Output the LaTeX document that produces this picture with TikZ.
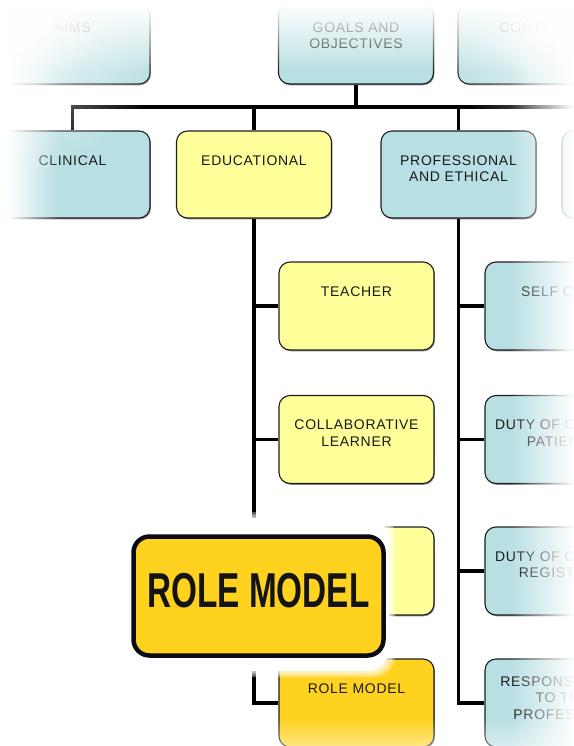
\documentclass[tikz,border=0pt]{standalone}
\usepackage{fontspec}
\setmainfont{Liberation Sans}
\usetikzlibrary{fadings,shadows}

\definecolor{tealfill}{HTML}{B8DFE3}
\definecolor{yelfill}{HTML}{FFFF99}
\definecolor{goldfill}{HTML}{FFD21F}
\definecolor{boxline}{HTML}{1E1E1E}
\definecolor{bigline}{HTML}{0B0B16}

\newcommand{\lblfont}{\fontsize{14}{16.5}\selectfont\addfontfeatures{LetterSpace=5}}
\newcommand{\bigfont}{\fontsize{49}{49}\selectfont\bfseries}

% soft white corner wash
\tikzfading[name=cornerfade, inner color=transparent!0, outer color=transparent!100]

\begin{document}
\begin{tikzpicture}[x=1pt, y=-1pt,
  box/.style={draw=boxline, line width=1.1pt, rounded corners=11pt,
    minimum width=155pt, minimum height=88pt, inner sep=0pt,
    general shadow={fill=black!45, shadow xshift=0.9pt, shadow yshift=-1.3pt}},
  tealbox/.style={box, fill=tealfill},
  yelbox/.style={box, fill=yelfill},
  goldbox/.style={box, fill=goldfill},
  toprow/.style={minimum height=80pt},
  midrow/.style={minimum height=87pt},
  lbl/.style={font=\lblfont, align=center, anchor=north, inner sep=0pt,
    text=black!90, yshift=-25pt},
  wire/.style={line width=3.6pt, black},
]
\useasboundingbox (0,0) rectangle (573,746);

% top row
\node[tealbox, toprow, label={[lbl, yshift=6pt]north:AIMS}] (aims) at (72.5,44) {};
\node[tealbox, toprow, label={[lbl, yshift=6pt]north:GOALS AND\\OBJECTIVES}] (goals) at (356,44) {};
\node[tealbox, toprow, label={[lbl, yshift=6pt]north:CONTENT}] (content) at (535.5,44) {};

% second row
\node[tealbox, midrow, label={[lbl]north:CLINICAL}] (clin) at (72.5,174.5) {};
\node[yelbox, midrow, label={[lbl]north:EDUCATIONAL}] (edu) at (254,174.5) {};
\node[tealbox, midrow, label={[lbl]north:PROFESSIONAL\\AND ETHICAL}] (prof) at (458.5,174.5) {};
\node[tealbox, midrow] (fourth) at (639.5,174.5) {};

% educational roles
\node[yelbox, label={[lbl]north:TEACHER}] (teacher) at (356.5,306) {};
\node[yelbox, label={[lbl]north:COLLABORATIVE\\LEARNER}] (collab) at (356.5,439.5) {};
\node[yelbox] (third) at (356.5,571) {};
\node[goldbox, label={[lbl]north:ROLE MODEL}] (rolem) at (356.5,703) {};

% professional and ethical duties
\node[tealbox, label={[lbl]north:SELF CARE}] (selfcare) at (562.5,306) {};
\node[tealbox, label={[lbl]north:DUTY OF CARE TO\\PATIENTS}] (dutypat) at (562.5,439.5) {};
\node[tealbox, label={[lbl]north:DUTY OF CARE TO\\REGISTRAR}] (dutyreg) at (562.5,571) {};
\node[tealbox, label={[lbl, yshift=7pt]north:RESPONSIBILITY\\TO THE\\PROFESSION}] (resp) at (562.5,703) {};

% connectors
\coordinate (bus) at (0,107);
\draw[wire] (goals.south) -- (goals.south |- bus);
\draw[wire] (clin.north) -- (clin.north |- bus) -- (fourth.north |- bus) -- (fourth.north);
\draw[wire] (edu.north |- bus) -- (edu.north);
\draw[wire] (prof.north |- bus) -- (prof.north);

\draw[wire] (edu.south) -- (edu.south |- rolem.west) -- (rolem.west);
\foreach \n in {teacher, collab, third}
  \draw[wire] (edu.south |- \n.west) -- (\n.west);

\draw[wire] (prof.south) -- (prof.south |- resp.west) -- (resp.west);
\foreach \n in {selfcare, dutypat, dutyreg}
  \draw[wire] (prof.south |- \n.west) -- (\n.west);

% white glow behind the enlarged callout
\foreach \g in {2,4,6}
  \fill[white, opacity=0.35, rounded corners=22pt] (122-\g,518-\g) rectangle (389+\g,671+\g);
\fill[white, rounded corners=22pt] (122,518) rectangle (389,671);

% enlarged callout
\node[draw=bigline, line width=4.5pt, fill=goldfill, rounded corners=16pt,
  minimum width=250pt, minimum height=119pt, inner sep=0pt, text depth=11pt,
  font=\bigfont, text=black!92] (callout) at (258.5,596) {\scalebox{0.68}[1]{ROLE MODEL}};

% edge washes (each ramp spans its own rectangle)
\fill[white] (-20,-20) rectangle (8,766);
\fill[white, path fading=east] (8,-20) rectangle (58,766);
\fill[white, path fading=west] (510,-20) rectangle (574,766);
\fill[white] (-20,-20) rectangle (600,5);
\fill[white, path fading=south] (-20,5) rectangle (600,72);
\fill[white, path fading=north] (-20,718) rectangle (600,782);
\fill[white, path fading=cornerfade] (0,0) circle (180pt);
\fill[white, path fading=cornerfade] (0,0) circle (110pt);
\fill[white, path fading=cornerfade] (573,0) circle (150pt);
\fill[white, path fading=cornerfade] (573,0) circle (100pt);
\end{tikzpicture}
\end{document}
